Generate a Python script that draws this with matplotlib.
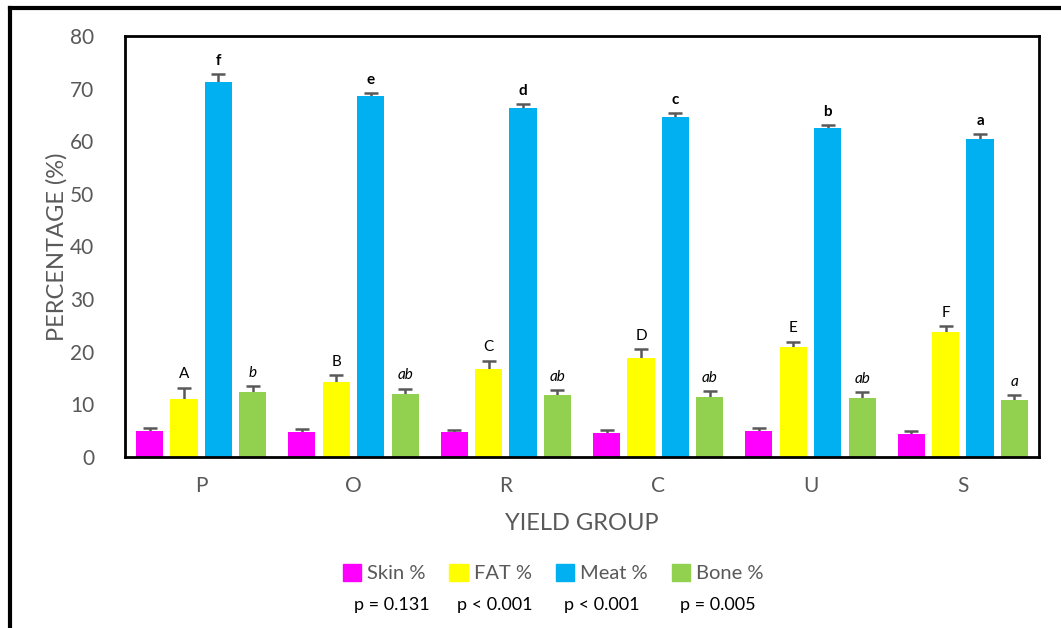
import numpy as np
import matplotlib
matplotlib.use('Agg')
import matplotlib.pyplot as plt
from matplotlib.lines import Line2D

plt.rcParams['font.family'] = ['Lato', 'DejaVu Sans']

# ==================== 数据 ====================
groups = ['P', 'O', 'R', 'C', 'U', 'S']
series = ['Skin %', 'FAT %', 'Meat %', 'Bone %']

skin = [4.9, 4.8, 4.7, 4.6, 4.9, 4.4]
fat = [11.0, 14.3, 16.7, 18.8, 20.9, 23.7]
meat = [71.3, 68.6, 66.4, 64.6, 62.5, 60.4]
bone = [12.4, 11.9, 11.8, 11.4, 11.3, 10.8]

skin_err = [0.6, 0.6, 0.5, 0.5, 0.6, 0.5]
fat_err = [2.2, 1.3, 1.6, 1.7, 1.0, 1.1]
meat_err = [1.4, 0.6, 0.6, 0.7, 0.6, 0.9]
bone_err = [1.0, 1.1, 0.95, 1.1, 1.0, 1.0]

fat_letters = ['A', 'B', 'C', 'D', 'E', 'F']
meat_letters = ['f', 'e', 'd', 'c', 'b', 'a']
bone_letters = ['b', 'ab', 'ab', 'ab', 'ab', 'a']

p_values = ['p = 0.131', 'p < 0.001', 'p < 0.001', 'p = 0.005']

colors = ['#FF00FF', '#FFFF00', '#00B0F0', '#92D050']

# ==================== 画图 ====================
fig = plt.figure(figsize=(10.61, 6.28), dpi=100)
ax = fig.add_axes([125 / 1061, 1 - 457 / 628, 914 / 1061, 421 / 628])

x = np.arange(len(groups))
width = 0.178
step = 0.226
values = [skin, fat, meat, bone]
errors = [skin_err, fat_err, meat_err, bone_err]

for i, (v, e) in enumerate(zip(values, errors)):
    pos = x + (i - 1.5) * step
    ax.bar(pos, v, width, color=colors[i], label=series[i], zorder=2)
    # 误差线放在柱子下面，只露出上半截
    ax.errorbar(pos, v, yerr=e, fmt='none',
                ecolor='#595959', elinewidth=1.8, capsize=5, capthick=1.8, zorder=1)

# 显著性字母
for j in range(len(groups)):
    ax.text(x[j] - 0.5 * step, fat[j] + fat_err[j] + 1.2, fat_letters[j],
            ha='center', va='bottom', fontsize=11, color='black')
    ax.text(x[j] + 0.5 * step, meat[j] + meat_err[j] + 1.2, meat_letters[j],
            ha='center', va='bottom', fontsize=11, fontweight='bold', color='black')
    ax.text(x[j] + 1.5 * step, bone[j] + bone_err[j] + 1.2, bone_letters[j],
            ha='center', va='bottom', fontsize=11, style='italic', color='black')

ax.set_xlim(-0.5, len(groups) - 0.5)
ax.set_ylim(0, 80)
ax.set_yticks(range(0, 81, 10))
ax.set_xticks(x)
ax.set_xticklabels(groups)
ax.tick_params(axis='both', length=0, labelsize=15, labelcolor='#595959')
ax.tick_params(axis='x', pad=14)
ax.tick_params(axis='y', pad=22)
for s in ax.spines.values():
    s.set_linewidth(2)
    s.set_color('black')

ax.set_ylabel('PERCENTAGE (%)', fontsize=17, color='#595959', labelpad=2)
ax.set_xlabel('YIELD GROUP', fontsize=17, color='#595959', labelpad=12)

# 图例
handles = [plt.Rectangle((0, 0), 1, 1, color=c) for c in colors]
leg = fig.legend(handles, series, loc='center', bbox_to_anchor=(553 / 1061, 1 - 573 / 628),
                 ncol=4, frameon=False, fontsize=14.5, handlelength=0.9, handleheight=0.9,
                 handletextpad=0.3, columnspacing=1.2)
for t in leg.get_texts():
    t.set_color('#595959')

# p 值
p_x = [392, 495, 602, 718]
for px, txt in zip(p_x, p_values):
    fig.text(px / 1061, 1 - 605 / 628, txt, ha='center', va='center', fontsize=13, color='black')

# 外框
fig.add_artist(Line2D([10 / 1061, 10 / 1061], [0, 1 - 8 / 628], color='black', lw=3))
fig.add_artist(Line2D([10 / 1061, 1], [1 - 8 / 628, 1 - 8 / 628], color='black', lw=3))

plt.savefig('out.png', dpi=100)
